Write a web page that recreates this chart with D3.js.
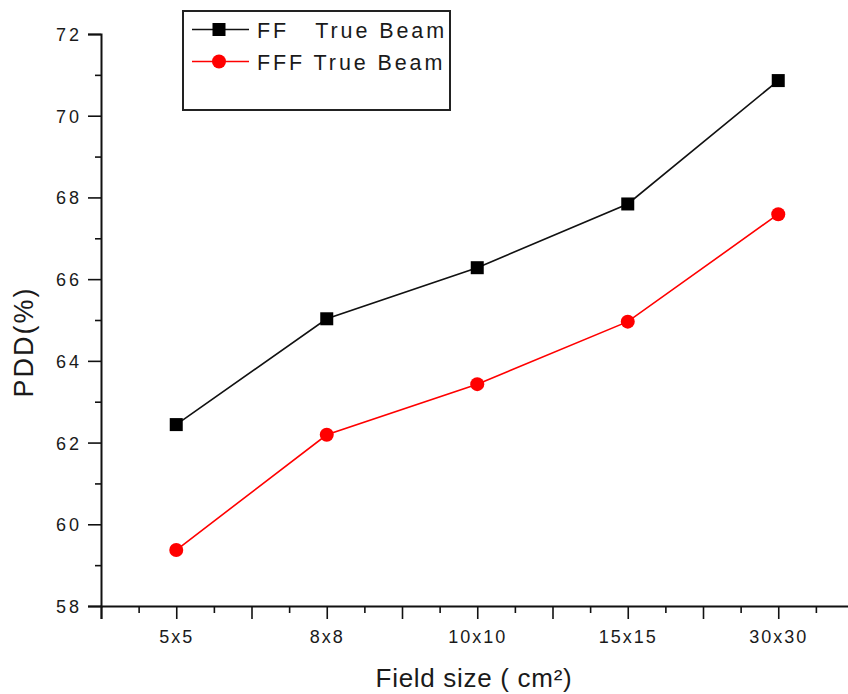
<!DOCTYPE html>
<html>
<head>
<meta charset="utf-8">
<script src="https://cdn.jsdelivr.net/npm/d3@7"></script>
<style>
  body { margin: 0; background: #fff; }
  text { font-family: "Liberation Sans", Arial, sans-serif; fill: #1a1a1a; }
</style>
</head>
<body>
<div id="chart"></div>
<script>
// Data
var categories = ["5x5", "8x8", "10x10", "15x15", "30x30"];
var ffValues = [62.44, 65.03, 66.28, 67.84, 70.86];
var fffValues = [59.37, 62.19, 63.43, 64.96, 67.59];
var seriesNames = ["FF   True Beam", "FFF True Beam"];
var yTicks = [58, 60, 62, 64, 66, 68, 70, 72];

var width = 848, height = 694;

var svg = d3.select("#chart").append("svg")
    .attr("width", width)
    .attr("height", height);

// Scales (categories sit at 1..5, axis runs from 0.5)
var x = d3.scaleLinear()
    .domain([0.5, 6])
    .range([101, 101 + 5.5 * 150.5]);

var y = d3.scaleLinear()
    .domain([58, 72])
    .range([606, 34]);

// X axis: majors every 0.5, minors every 0.25, labels at categories
var xAxis = svg.append("g")
    .attr("transform", "translate(0,606)")
    .call(d3.axisBottom(x)
      .tickValues(d3.range(0.5, 6.01, 0.25))
      .tickSizeOuter(0)
      .tickSize(13)
      .tickFormat(function(d) {
        return Number.isInteger(d) ? categories[d - 1] : "";
      }));

xAxis.select(".domain").attr("stroke", "#111").attr("stroke-width", 2);
xAxis.selectAll(".tick line")
    .attr("stroke", "#111")
    .attr("stroke-width", 1.6)
    .attr("y2", function(d) { return (d * 2) % 1 === 0 ? 13 : 7; });
xAxis.selectAll(".tick text")
    .attr("y", 37)
    .attr("dy", null)
    .style("font-size", "18px")
    .style("letter-spacing", "2px");

// Y axis: labels every 2, minors every 1
var yAxis = svg.append("g")
    .attr("transform", "translate(101,0)")
    .call(d3.axisLeft(y)
      .tickValues(d3.range(58, 72.01, 1))
      .tickSizeOuter(0)
      .tickSize(13)
      .tickFormat(function(d) { return yTicks.indexOf(d) >= 0 ? d : ""; }));

yAxis.select(".domain").attr("stroke", "#111").attr("stroke-width", 2);
yAxis.selectAll(".tick line")
    .attr("stroke", "#111")
    .attr("stroke-width", 1.6)
    .attr("x2", function(d) { return d % 2 === 0 ? -13 : -6; });
yAxis.selectAll(".tick text")
    .attr("x", -19)
    .attr("dy", "0.36em")
    .style("font-size", "18px")
    .style("letter-spacing", "3px");

// Axis titles
svg.append("text")
    .attr("x", 474)
    .attr("y", 687)
    .style("text-anchor", "middle")
    .style("font-size", "26px")
    .style("letter-spacing", "0.7px")
    .text("Field size ( cm\u00b2)");

svg.append("text")
    .attr("transform", "rotate(-90)")
    .attr("x", -342)
    .attr("y", 33)
    .style("text-anchor", "middle")
    .style("font-size", "27px")
    .style("letter-spacing", "2px")
    .text("PDD(%)");

// Lines
var line = d3.line()
    .x(function(d, i) { return x(i + 1); })
    .y(function(d) { return y(d); });

svg.append("path")
    .datum(ffValues)
    .attr("fill", "none")
    .attr("stroke", "#111")
    .attr("stroke-width", 1.6)
    .attr("d", line);

svg.append("path")
    .datum(fffValues)
    .attr("fill", "none")
    .attr("stroke", "#ff0000")
    .attr("stroke-width", 1.6)
    .attr("d", line);

// Markers
svg.selectAll(".ff")
    .data(ffValues)
  .enter().append("rect")
    .attr("class", "ff")
    .attr("x", function(d, i) { return x(i + 1) - 6.5; })
    .attr("y", function(d) { return y(d) - 6.5; })
    .attr("width", 13)
    .attr("height", 13)
    .attr("fill", "#000");

svg.selectAll(".fff")
    .data(fffValues)
  .enter().append("circle")
    .attr("class", "fff")
    .attr("cx", function(d, i) { return x(i + 1); })
    .attr("cy", function(d) { return y(d); })
    .attr("r", 7)
    .attr("fill", "#ff0000");

// Legend
var legend = svg.append("g");

legend.append("rect")
    .attr("x", 183)
    .attr("y", 11)
    .attr("width", 267)
    .attr("height", 99)
    .attr("fill", "#fff")
    .attr("stroke", "#222")
    .attr("stroke-width", 2);

var rows = [29.5, 61.5];
var colors = ["#111", "#ff0000"];

rows.forEach(function(ry, i) {
  legend.append("line")
      .attr("x1", 192).attr("x2", 249)
      .attr("y1", ry).attr("y2", ry)
      .attr("stroke", colors[i])
      .attr("stroke-width", 1.6);
  if (i === 0) {
    legend.append("rect")
        .attr("x", 219 - 6.5).attr("y", ry - 6.5)
        .attr("width", 13).attr("height", 13)
        .attr("fill", "#000");
  } else {
    legend.append("circle")
        .attr("cx", 219).attr("cy", ry)
        .attr("r", 7)
        .attr("fill", "#ff0000");
  }
  legend.append("text")
      .attr("x", 257)
      .attr("y", ry + 8)
      .style("font-size", "21.5px")
      .style("letter-spacing", "2.9px")
      .style("white-space", "pre")
      .text(seriesNames[i]);
});
</script>
</body>
</html>
